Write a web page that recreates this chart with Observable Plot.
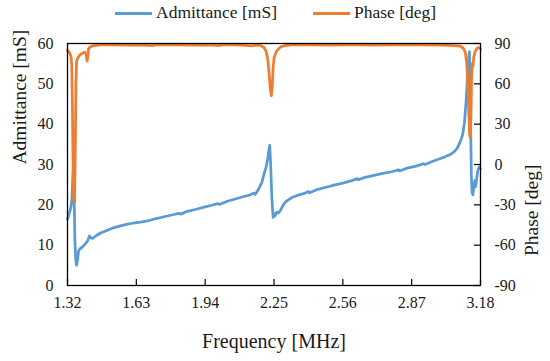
<!DOCTYPE html>
<html><head><meta charset="utf-8">
<script src="https://cdn.jsdelivr.net/npm/d3@7"></script>
<script src="https://cdn.jsdelivr.net/npm/@observablehq/plot@0.6"></script>
<style>
body{margin:0;background:#fff;font-family:"Liberation Serif","DejaVu Serif",serif;color:#1a1a1a;}
#legend{position:relative;height:28px;width:550px;font-size:17.5px;}
#legend .sw{position:absolute;top:12px;width:37px;height:3px;}
#legend .lab{position:absolute;top:2px;white-space:nowrap;}
#chart svg{display:block;}
</style></head><body>
<div id="legend"></div>
<div id="chart"></div>
<script>
const seriesNames = ["Admittance [mS]", "Phase [deg]"];
const seriesColors = ["#5B9BD5", "#ED7D31"];
const freqTicks = [1.32, 1.63, 1.94, 2.25, 2.56, 2.87, 3.18];
const admTicks = [0, 10, 20, 30, 40, 50, 60];
const phaseTicks = [-90, -60, -30, 0, 30, 60, 90];
const xTitle = "Frequency [MHz]";
const yLeftTitle = "Admittance [mS]";
const yRightTitle = "Phase [deg]";

const admFreq = [1.320,1.326,1.331,1.336,1.340,1.344,1.347,1.350,1.353,1.357,1.361,1.365,1.370,1.378,1.388,1.398,1.410,1.419,1.425,1.433,1.450,1.469,1.500,1.527,1.559,1.590,1.620,1.650,1.680,1.720,1.760,1.800,1.820,1.830,1.860,1.900,1.940,1.970,1.996,2.004,2.040,2.080,2.110,2.140,2.158,2.165,2.180,2.195,2.205,2.215,2.222,2.228,2.231,2.235,2.240,2.246,2.250,2.255,2.262,2.270,2.279,2.290,2.300,2.311,2.330,2.360,2.390,2.405,2.410,2.440,2.480,2.520,2.560,2.600,2.626,2.630,2.660,2.700,2.740,2.780,2.811,2.815,2.850,2.890,2.923,2.930,2.960,2.990,3.020,3.031,3.045,3.060,3.075,3.090,3.100,3.108,3.115,3.121,3.126,3.130,3.133,3.136,3.139,3.142,3.146,3.150,3.154,3.158,3.163,3.168,3.174,3.180];
const admValue = [16.5,17.5,18.5,19.5,21.5,27.0,30.0,22.0,12.0,6.5,5.0,6.2,8.6,9.2,9.6,10.2,11.0,12.3,11.8,11.7,12.4,13.0,13.7,14.3,14.8,15.2,15.5,15.7,16.0,16.6,17.1,17.6,17.9,17.7,18.4,18.9,19.5,19.9,20.3,20.1,20.9,21.5,22.0,22.4,22.9,22.6,23.8,25.5,27.6,29.5,31.5,34.0,34.8,30.0,22.0,16.9,17.8,17.3,18.2,18.0,18.6,19.8,20.6,21.1,21.8,22.4,22.9,23.3,23.0,23.7,24.3,24.9,25.4,26.0,26.5,26.2,26.8,27.3,27.8,28.2,28.7,28.4,29.1,29.6,30.2,30.0,30.7,31.3,31.9,32.2,32.5,33.1,34.0,35.8,37.5,40.5,45.5,51.5,56.0,58.0,52.0,38.0,27.0,23.0,22.5,24.5,26.0,24.5,26.5,28.5,29.4,29.0];

const phaseFreq = [1.320,1.326,1.331,1.336,1.339,1.342,1.345,1.348,1.352,1.355,1.358,1.361,1.366,1.373,1.380,1.390,1.398,1.404,1.408,1.411,1.415,1.422,1.440,1.470,1.520,1.600,1.640,1.700,1.720,1.800,1.900,1.960,2.000,2.020,2.080,2.120,2.150,2.170,2.190,2.205,2.215,2.222,2.228,2.233,2.238,2.242,2.246,2.251,2.256,2.260,2.268,2.280,2.300,2.330,2.400,2.500,2.560,2.640,2.700,2.800,2.900,3.000,3.060,3.090,3.105,3.112,3.118,3.123,3.127,3.131,3.134,3.137,3.140,3.143,3.146,3.150,3.156,3.163,3.170,3.176,3.180];
const phaseValue = [85,84,82.5,80,74,45,0,-27,-28,10,60,77,79,81,82,83,83.5,82,77,79,86,87.5,88.5,89,89,88.8,89,88.5,89,89,88.7,89,88.5,89,89,88.6,88.2,88.8,88.5,87,84,78,68,57,51,58,72,80,82,84,85.5,87.5,88.5,89,89,88.8,89,89,88.7,89,89,88.8,88.5,88,86,83,75,60,40,22,20,35,65,75,73,80,84,86,87,86.5,86];

// Legend
const legend = document.getElementById("legend");
const legendPos = [[115, 156], [313, 354]];
seriesNames.forEach((name, i) => {
  const sw = document.createElement("span");
  sw.className = "sw"; sw.style.left = legendPos[i][0] + "px"; sw.style.background = seriesColors[i];
  const lab = document.createElement("span");
  lab.className = "lab"; lab.style.left = legendPos[i][1] + "px"; lab.textContent = name;
  legend.appendChild(sw); legend.appendChild(lab);
});

const adm = admFreq.map((f, i) => ({f, v: admValue[i]}));
// map phase (-90..90) onto the admittance scale (0..60)
const phaseToY = p => (p + 90) / 3;
const ph = phaseFreq.map((f, i) => ({f, v: phaseToY(phaseValue[i])}));

const FONT = "'Liberation Serif', 'DejaVu Serif', serif";
const W = 550, H = 333, mT = 15, mB = 76, mL = 67, mR = 70;
const chart = Plot.plot({
  width: W, height: H, marginTop: mT, marginBottom: mB, marginLeft: mL, marginRight: mR,
  style: {fontFamily: FONT, fontSize: "16px", color: "#1a1a1a", background: "#fff"},
  x: {domain: [freqTicks[0], freqTicks[freqTicks.length - 1]]},
  y: {domain: [admTicks[0], admTicks[admTicks.length - 1]]},
  marks: [
    Plot.line(adm, {x: "f", y: "v", stroke: seriesColors[0], strokeWidth: 2.75}),
    Plot.line(ph, {x: "f", y: "v", stroke: seriesColors[1], strokeWidth: 2.75}),
    Plot.frame({stroke: "#000", strokeWidth: 1.3}),
    Plot.tickX(freqTicks, {x: d => d, insetTop: H - mT - mB - 6, stroke: "#000", strokeWidth: 1.2}),
    Plot.tickY(admTicks, {y: d => d, insetLeft: W - mL - mR - 6, stroke: "#000", strokeWidth: 1.2}),
    Plot.axisX({ticks: freqTicks, tickSize: 0, tickPadding: 11, tickFormat: d => d.toFixed(2), label: null, fontSize: 16}),
    Plot.axisY({anchor: "left", ticks: admTicks, tickSize: 0, tickPadding: 14, tickFormat: d => String(d), label: null, fontSize: 16}),
    Plot.axisY({anchor: "right", ticks: admTicks, tickSize: 0, tickPadding: 14, tickFormat: d => String(phaseTicks[admTicks.indexOf(d)]), label: null, fontSize: 16}),
    Plot.text([xTitle], {frameAnchor: "bottom", dy: 62, text: d => d, fontSize: 20, fill: "#1a1a1a"}),
    Plot.text([yLeftTitle], {frameAnchor: "left", dx: -48, rotate: -90, text: d => d, fontSize: 19.5, fill: "#1a1a1a"}),
    Plot.text([yRightTitle], {frameAnchor: "right", dx: 51, rotate: -90, text: d => d, fontSize: 19.5, fill: "#1a1a1a"})
  ]
});
document.getElementById("chart").appendChild(chart);
</script>
</body></html>
